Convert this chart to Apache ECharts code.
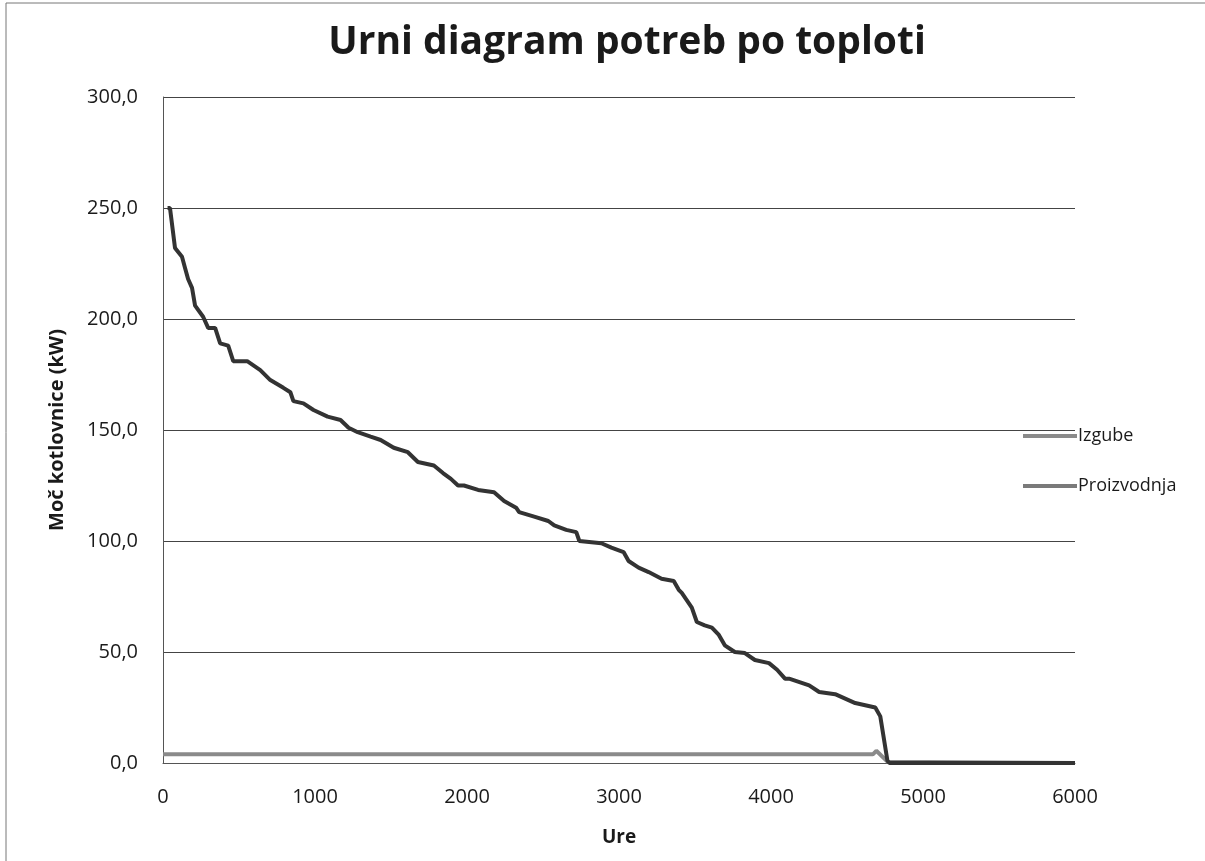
<!DOCTYPE html>
<html>
<head>
<meta charset="utf-8">
<title>Urni diagram potreb po toploti</title>
<script src="https://cdn.jsdelivr.net/npm/echarts@6/dist/echarts.min.js"></script>
<style>
  html, body { margin: 0; padding: 0; background: #fff; }
  #chart { width: 1205px; height: 861px; }
</style>
</head>
<body>
<div id="chart"></div>
<script>
// ure (x) and moč (kW)
const proizvodnjaUre = [30, 46, 79, 125, 145, 165, 191, 211, 264, 297, 343, 376, 429, 462, 554, 640, 706, 792, 838, 858, 924, 990, 1083, 1168, 1221, 1281, 1366, 1432, 1518, 1611, 1677, 1782, 1842, 1894, 1941, 1980, 2073, 2178, 2244, 2323, 2343, 2442, 2535, 2574, 2653, 2719, 2739, 2884, 2950, 3030, 3063, 3129, 3195, 3280, 3360, 3393, 3413, 3479, 3512, 3564, 3611, 3657, 3696, 3762, 3828, 3894, 3987, 4040, 4092, 4119, 4251, 4317, 4422, 4554, 4620, 4686, 4719, 4766, 4779, 6000]
const proizvodnjaKW = [250, 250, 232, 228, 223, 218, 214, 206, 201, 196, 196, 189, 188, 181, 181, 177, 172.5, 169, 167, 163, 162, 159, 156, 154.5, 151, 149, 147, 145.5, 142, 140, 135.6, 134, 130.6, 128, 125, 125, 123, 122, 118, 115, 113, 111, 109, 107, 105, 104, 100, 99, 97, 95, 91, 88, 86, 83, 82, 78, 76.6, 70, 63.5, 62, 61, 57.7, 53, 50, 49.5, 46.4, 45, 42, 38, 38, 35, 32, 31, 27, 26, 25, 21, 1, 0, 0]

const izgubeUre = [0, 4670, 4693, 4766, 4779, 6000]
const izgubeKW = [3.9, 3.9, 5.5, 0.6, 0, 0]

const yTicks = [0, 50, 100, 150, 200, 250, 300]
const xTicks = [0, 1000, 2000, 3000, 4000, 5000, 6000]

const font = '"Open Sans", "DejaVu Sans", sans-serif'

const chart = echarts.init(document.getElementById('chart'))

const toPairs = (xs, ys) => xs.map((x, i) => [x, ys[i]])

const option = {
  backgroundColor: '#fff',
  animation: false,
  title: {
    text: 'Urni diagram potreb po toploti',
    left: 622,
    top: 18,
    textAlign: 'center',
    textStyle: {
      fontFamily: font,
      fontSize: 39,
      fontWeight: 'bold',
      color: '#1a1a1a'
    }
  },
  legend: {
    orient: 'vertical',
    left: 1018,
    top: 422,
    icon: 'rect',
    itemWidth: 54,
    itemHeight: 4,
    itemGap: 32,
    textStyle: {
      fontFamily: font,
      fontSize: 18,
      color: '#1a1a1a',
      padding: [0, 0, 0, -4]
    },
    data: ['Izgube', 'Proizvodnja']
  },
  grid: {
    left: 163,
    right: 130,
    top: 97,
    bottom: 98,
    containLabel: false
  },
  xAxis: {
    type: 'value',
    min: xTicks[0],
    max: xTicks[xTicks.length - 1],
    interval: 1000,
    name: 'Ure',
    nameLocation: 'middle',
    nameGap: 65,
    nameMoveOverlap: false,
    nameTextStyle: {
      fontFamily: font,
      fontSize: 19,
      fontWeight: 'bold',
      color: '#1a1a1a'
    },
    axisLine: { show: true, lineStyle: { color: '#555', width: 1 } },
    axisTick: { show: false },
    splitLine: { show: false },
    axisLabel: {
      margin: 24,
      fontFamily: font,
      fontSize: 20,
      color: '#1a1a1a',
      formatter: v => String(v)
    }
  },
  yAxis: {
    type: 'value',
    min: yTicks[0],
    max: yTicks[yTicks.length - 1],
    interval: 50,
    name: 'Moč kotlovnice (kW)',
    nameLocation: 'middle',
    nameGap: 96,
    nameMoveOverlap: false,
    nameTextStyle: {
      fontFamily: font,
      fontSize: 20,
      fontWeight: 'bold',
      color: '#1a1a1a'
    },
    axisLine: { show: true, lineStyle: { color: '#555', width: 1 } },
    axisTick: { show: false },
    splitLine: { show: true, lineStyle: { color: '#444', width: 1 } },
    axisLabel: {
      margin: 25,
      fontFamily: font,
      fontSize: 20,
      color: '#1a1a1a',
      formatter: v => v.toFixed(1).replace('.', ',')
    }
  },
  graphic: [
    {
      type: 'rect',
      shape: { x: 6, y: 3, width: 1400, height: 1000 },
      style: { fill: 'none', stroke: '#777', lineWidth: 1 },
      silent: true
    }
  ],
  series: [
    {
      name: 'Izgube',
      type: 'line',
      data: toPairs(izgubeUre, izgubeKW),
      symbol: 'none',
      color: '#8a8a8a',
      lineStyle: { color: '#8a8a8a', width: 4 }
    },
    {
      name: 'Proizvodnja',
      type: 'line',
      data: toPairs(proizvodnjaUre, proizvodnjaKW),
      symbol: 'none',
      color: '#7a7a7a',
      lineStyle: { color: '#333', width: 4 }
    }
  ]
}

chart.setOption(option)
</script>
</body>
</html>
